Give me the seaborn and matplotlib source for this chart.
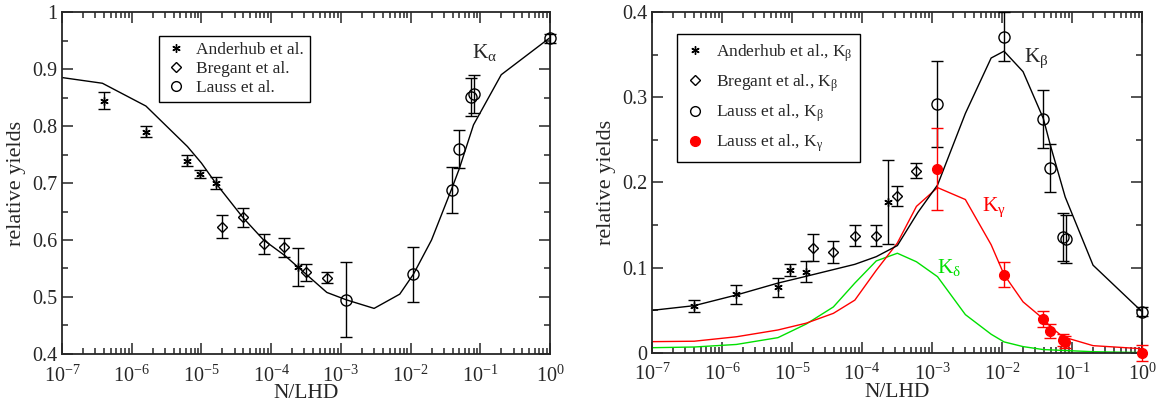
import matplotlib
matplotlib.use("Agg")
import matplotlib.pyplot as plt
from matplotlib.lines import Line2D
from matplotlib.ticker import FixedLocator, LogLocator, MultipleLocator, NullFormatter
import seaborn as sns
import pandas as pd

"""data: left panel (K alpha)"""
and_x = [4e-7, 1.6e-6, 6.3e-6, 9.5e-6, 1.6e-5, 2.4e-4]
and_y = [0.844, 0.790, 0.739, 0.716, 0.700, 0.553]
and_e = [0.015, 0.010, 0.010, 0.007, 0.010, 0.033]
breg_x = [2e-5, 3.9e-5, 7.8e-5, 1.55e-4, 3.2e-4, 6.3e-4]
breg_y = [0.623, 0.640, 0.593, 0.587, 0.543, 0.534]
breg_e = [0.020, 0.017, 0.017, 0.017, 0.015, 0.010]
lauss_x = [1.18e-3, 1.07e-2, 3.9e-2, 5e-2, 7.4e-2, 8.2e-2, 1.0]
lauss_y = [0.495, 0.540, 0.688, 0.760, 0.851, 0.856, 0.954]
lauss_e = [0.066, 0.048, 0.040, 0.033, 0.034, 0.034, 0.008]
ka_x = [1e-7, 3.8e-7, 1.6e-6, 6.3e-6, 1e-5, 1.6e-5, 3.9e-5, 7.8e-5, 1.6e-4, 2.4e-4,
        6.3e-4, 1.2e-3, 3e-3, 7e-3, 1.1e-2, 2e-2, 3.9e-2, 5e-2, 8e-2, 0.2, 1.0]
ka_y = [0.885, 0.875, 0.835, 0.764, 0.735, 0.700, 0.640, 0.600, 0.572, 0.553,
        0.508, 0.495, 0.480, 0.505, 0.540, 0.600, 0.690, 0.725, 0.802, 0.890, 0.955]

"""data: right panel (K beta, gamma, delta)"""
andb_x = [4e-7, 1.6e-6, 6.3e-6, 9.5e-6, 1.6e-5, 2.35e-4]
andb_y = [0.0555, 0.069, 0.077, 0.0977, 0.0954, 0.177]
andb_e = [0.007, 0.011, 0.011, 0.007, 0.012, 0.049]
bregb_x = [2e-5, 3.9e-5, 7.9e-5, 1.6e-4, 3.2e-4, 6e-4]
bregb_y = [0.1235, 0.118, 0.1376, 0.1376, 0.184, 0.214]
bregb_e = [0.016, 0.013, 0.012, 0.012, 0.012, 0.009]
laub_x = [1.18e-3, 1.07e-2, 3.9e-2, 4.9e-2, 7.4e-2, 8.1e-2, 1.0]
laub_y = [0.292, 0.371, 0.275, 0.217, 0.136, 0.134, 0.0485]
laub_e = [0.050, 0.029, 0.034, 0.028, 0.028, 0.028, 0.005]
laug_x = [1.18e-3, 1.07e-2, 3.9e-2, 4.9e-2, 7.4e-2, 8e-2, 1.0]
laug_y = [0.216, 0.092, 0.040, 0.026, 0.0153, 0.013, 0.0]
laug_e = [0.048, 0.015, 0.009, 0.008, 0.007, 0.007, 0.009]
kb_x = [1e-7, 4e-7, 1.6e-6, 6.3e-6, 1.6e-5, 7.9e-5, 1.6e-4, 3.2e-4, 6.3e-4, 1.2e-3,
        3e-3, 7e-3, 1.07e-2, 2e-2, 3.9e-2, 4.9e-2, 8e-2, 0.2, 1.0]
kb_y = [0.050, 0.0555, 0.068, 0.082, 0.090, 0.104, 0.113, 0.126, 0.165, 0.197,
        0.281, 0.346, 0.354, 0.330, 0.275, 0.244, 0.183, 0.103, 0.0485]
kg_x = [1e-7, 4e-7, 1.6e-6, 6.3e-6, 1.6e-5, 3.9e-5, 7.9e-5, 1.6e-4, 3.2e-4, 6e-4,
        1.2e-3, 3e-3, 7e-3, 1.07e-2, 2e-2, 3.9e-2, 4.9e-2, 7.4e-2, 0.2, 1.0]
kg_y = [0.0133, 0.0138, 0.019, 0.027, 0.035, 0.0465, 0.062, 0.097, 0.129, 0.172,
        0.194, 0.180, 0.127, 0.092, 0.060, 0.040, 0.031, 0.019, 0.0086, 0.005]
kd_x = [1e-7, 4e-7, 1.6e-6, 6.3e-6, 1.6e-5, 3.9e-5, 7.9e-5, 1.6e-4, 3.2e-4, 6e-4,
        1.2e-3, 3e-3, 7e-3, 1.07e-2, 2e-2, 3.9e-2, 0.2, 1.0]
kd_y = [0.0062, 0.007, 0.010, 0.018, 0.034, 0.054, 0.082, 0.108, 0.117, 0.107,
        0.0895, 0.045, 0.022, 0.013, 0.0075, 0.004, 0.0015, 0.0005]

x_ticks = [1e-7, 1e-6, 1e-5, 1e-4, 1e-3, 1e-2, 1e-1, 1e0]
x_labels = [r"$10^{-7}$", r"$10^{-6}$", r"$10^{-5}$", r"$10^{-4}$",
            r"$10^{-3}$", r"$10^{-2}$", r"$10^{-1}$", r"$10^{0}$"]

"""style"""
sns.set_style("ticks")
plt.rcParams["font.family"] = ["Liberation Serif", "DejaVu Serif"]
plt.rcParams["mathtext.fontset"] = "stix"
plt.rcParams["mathtext.default"] = "regular"
plt.rcParams["axes.linewidth"] = 1.3

star = (6, 2, 0)
RED = "#ff0000"
GREEN = "#00e000"

fig = plt.figure(figsize=(11.61, 4.03), dpi=100)
ax1 = fig.add_axes([0.0534, 0.1216, 0.4203, 0.8486])
ax2 = fig.add_axes([0.5616, 0.1241, 0.4220, 0.8462])


def setup(ax, ymin, ymax):
    ax.set_xscale("log")
    ax.set_xlim(1e-7, 1)
    ax.set_ylim(ymin, ymax)
    ax.xaxis.set_major_locator(FixedLocator(x_ticks))
    ax.set_xticklabels(x_labels)
    ax.xaxis.set_minor_locator(LogLocator(base=10, subs=range(2, 10), numticks=20))
    ax.xaxis.set_minor_formatter(NullFormatter())
    ax.yaxis.set_minor_locator(MultipleLocator(0.05))
    ax.tick_params(which="both", direction="in", top=True, right=True,
                   labelsize=14.5, width=1.1)
    ax.tick_params(which="major", length=8)
    ax.tick_params(which="minor", length=4)
    ax.tick_params(axis="x", which="major", pad=8)


def points(ax, x, y, e, marker, ms, color="black", mfc="none"):
    ax.errorbar(x, y, yerr=e, fmt="none", ecolor=color, elinewidth=1.0,
                capsize=4, capthick=1.0, clip_on=False, zorder=3)
    ax.plot(x, y, ls="none", marker=marker, ms=ms, color=color, mfc=mfc,
            mec=color, mew=1.0, clip_on=False, zorder=4)


"""left panel"""
setup(ax1, 0.4, 1.0)
ax1.set_yticks([0.4, 0.5, 0.6, 0.7, 0.8, 0.9, 1.0])
ax1.set_yticklabels(["0.4", "0.5", "0.6", "0.7", "0.8", "0.9", "1"])
sns.lineplot(data=pd.DataFrame({"x": ka_x, "y": ka_y}), x="x", y="y", ax=ax1,
             color="black", lw=1.0, estimator=None)
points(ax1, and_x, and_y, and_e, star, 6)
points(ax1, breg_x, breg_y, breg_e, "D", 5.5)
points(ax1, lauss_x, lauss_y, lauss_e, "o", 8)
ax1.set_xlabel("N/LHD", fontsize=15.5, labelpad=-2)
ax1.set_ylabel("relative yields", fontsize=16, labelpad=4)
ax1.text(0.840, 0.865, r"K$_{\alpha}$", transform=ax1.transAxes, fontsize=15.5,
         va="baseline")

h1 = [Line2D([], [], ls="none", marker=star, ms=6, color="black", mew=1.0),
      Line2D([], [], ls="none", marker="D", ms=5, mfc="none", mec="black"),
      Line2D([], [], ls="none", marker="o", ms=7, mfc="none", mec="black")]
ax1.legend(h1, ["Anderhub et al.", "Bregant et al.", "Lauss et al."],
           loc="upper left", bbox_to_anchor=(0.199, 0.930), borderaxespad=0,
           fancybox=False, edgecolor="black", framealpha=1, fontsize=12.5,
           handletextpad=0.6, labelspacing=0.15, borderpad=0.35, handlelength=1.2)

"""right panel"""
setup(ax2, 0.0, 0.4)
ax2.set_yticks([0.0, 0.1, 0.2, 0.3, 0.4])
ax2.set_yticklabels(["0", "0.1", "0.2", "0.3", "0.4"])
sns.lineplot(data=pd.DataFrame({"x": kd_x, "y": kd_y}), x="x", y="y", ax=ax2,
             color=GREEN, lw=1.0, estimator=None)
sns.lineplot(data=pd.DataFrame({"x": kg_x, "y": kg_y}), x="x", y="y", ax=ax2,
             color=RED, lw=1.0, estimator=None)
sns.lineplot(data=pd.DataFrame({"x": kb_x, "y": kb_y}), x="x", y="y", ax=ax2,
             color="black", lw=1.0, estimator=None)
points(ax2, andb_x, andb_y, andb_e, star, 6)
points(ax2, bregb_x, bregb_y, bregb_e, "D", 5.5)
points(ax2, laub_x, laub_y, laub_e, "o", 8)
points(ax2, laug_x, laug_y, laug_e, "o", 7, color=RED, mfc=RED)
ax2.set_xlabel("N/LHD", fontsize=15.5, labelpad=-2)
ax2.set_ylabel("relative yields", fontsize=16, labelpad=4)
ax2.text(0.759, 0.853, r"K$_{\beta}$", transform=ax2.transAxes, fontsize=15.5,
         va="baseline")
ax2.text(0.673, 0.416, r"K$_{\gamma}$", transform=ax2.transAxes, fontsize=15.5,
         color=RED, va="baseline")
ax2.text(0.581, 0.235, r"K$_{\delta}$", transform=ax2.transAxes, fontsize=15.5,
         color=GREEN, va="baseline")

h2 = [Line2D([], [], ls="none", marker=star, ms=6, color="black", mew=1.0),
      Line2D([], [], ls="none", marker="D", ms=5, mfc="none", mec="black"),
      Line2D([], [], ls="none", marker="o", ms=7, mfc="none", mec="black"),
      Line2D([], [], ls="none", marker="o", ms=7, mfc=RED, mec=RED)]
ax2.legend(h2, [r"Anderhub et al., K$_{\beta}$", r"Bregant et al., K$_{\beta}$",
                r"Lauss et al., K$_{\beta}$", r"Lauss et al., K$_{\gamma}$"],
           loc="upper left", bbox_to_anchor=(0.050, 0.935), borderaxespad=0,
           fancybox=False, edgecolor="black", framealpha=1, fontsize=12.5,
           handletextpad=0.6, labelspacing=0.5, borderpad=0.45, handlelength=1.2)

fig.savefig("out.png", dpi=100)
